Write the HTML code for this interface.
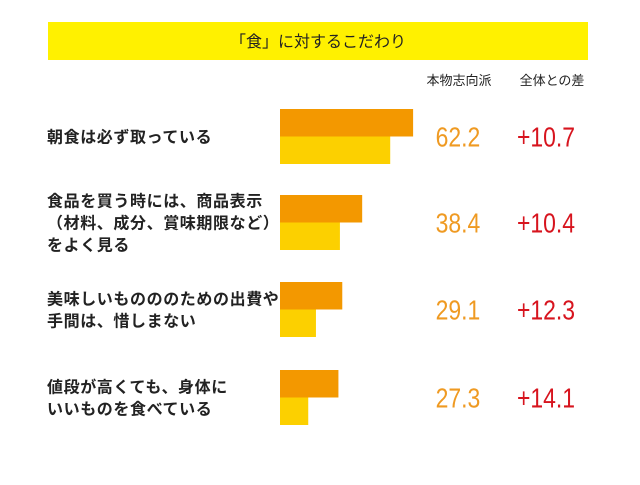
<!DOCTYPE html>
<html><head><meta charset="utf-8"><style>
body{margin:0;background:#fff;width:640px;height:480px;overflow:hidden;font-family:"Liberation Sans","Noto Sans CJK JP",sans-serif}
</style></head><body>
<svg width="640" height="480" xmlns="http://www.w3.org/2000/svg">
<rect x="48" y="22" width="540" height="38" fill="#fff100"/>
<text x="318" y="47" font-size="16" text-anchor="middle" fill="#222" font-family="Liberation Sans, Noto Sans CJK JP, sans-serif">「食」に対するこだわり</text>
<text x="459" y="85" font-size="13" text-anchor="middle" fill="#222" font-family="Liberation Sans, Noto Sans CJK JP, sans-serif">本物志向派</text>
<text x="552" y="85" font-size="13" text-anchor="middle" fill="#222" font-family="Liberation Sans, Noto Sans CJK JP, sans-serif">全体との差</text>
<g id="rows"></g>
</svg>
<script>
const categories=[["朝食は必ず取っている"],["食品を買う時には、商品表示","（材料、成分、賞味期限など）","をよく見る"],["美味しいものののための出費や","手間は、惜しまない"],["値段が高くても、身体に","いいものを食べている"]];
const values=[62.2,38.4,29.1,27.3];
const diffs=[10.7,10.4,12.3,14.1];
const valueLabels=["62.2","38.4","29.1","27.3"];
const diffLabels=["+10.7","+10.4","+12.3","+14.1"];
const NS="http://www.w3.org/2000/svg";
const g=document.getElementById('rows');
const x0=280, k=2.14;
const rowTop=[109,195,282,370];
function xs(v){return v*k;}
function mk(t,a){const e=document.createElementNS(NS,t);for(const n in a)e.setAttribute(n,a[n]);g.appendChild(e);return e;}
values.forEach((v,i)=>{
  const y=rowTop[i];
  const b1=mk('rect',{x:x0,y:y,width:xs(v),height:27.5,fill:'#f39800'});
  
  
  const b2=mk('rect',{x:x0,y:y+27.5,width:xs(v-diffs[i]),height:27.5,fill:'#fcd000'});
  
  
  const cy=y+27.5;
  const t1=mk('text',{x:458,y:cy+10,'font-size':28,'text-anchor':'middle',fill:'#ef9a22',transform:`translate(458 0) scale(0.82 1) translate(-458 0)`});
  t1.textContent=valueLabels[i];
  
  
  const t2=mk('text',{x:546,y:cy+10,'font-size':28,'text-anchor':'middle',fill:'#d7141e',transform:`translate(546 0) scale(0.82 1) translate(-546 0)`});
  t2.textContent=diffLabels[i];
  
  
  const lines=categories[i];
  const lh=22;
  const start=cy-(lines.length-1)*lh/2;
  lines.forEach((s,j)=>{
    const t=mk('text',{x:47,y:start+j*lh+6,'font-size':16,'font-weight':'bold',fill:'#222','letter-spacing':'0.6'});
    t.textContent=s;
    
    
  });
});
</script>
</body></html>
